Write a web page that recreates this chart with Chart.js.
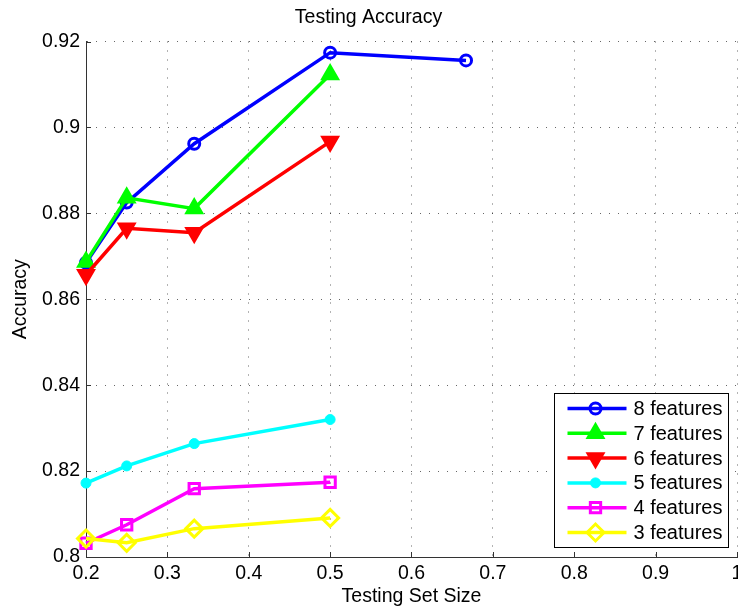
<!DOCTYPE html>
<html>
<head>
<meta charset="utf-8">
<title>Testing Accuracy</title>
<script src="https://cdn.jsdelivr.net/npm/chart.js@4.4.1/dist/chart.umd.min.js"></script>
<style>
  html, body { margin: 0; padding: 0; background: #fff; }
  canvas { display: block; }
</style>
</head>
<body>
<canvas id="acc" width="738" height="611"></canvas>
<script>
// --- 1. Datos ---
// Tamaño del conjunto de prueba (eje X)
const testSizes = [0.2, 0.25, 0.333, 0.5, 0.667];

// Precisión según el número de características usadas
const acc8 = [0.8685, 0.8825, 0.8962, 0.9174, 0.9156];
const acc7 = [0.8687, 0.8836, 0.8811, 0.9123];
const acc6 = [0.8657, 0.8765, 0.8755, 0.8967];
const acc5 = [0.8172, 0.8212, 0.8264, 0.8320];
const acc4 = [0.8032, 0.8075, 0.8159, 0.8174];
const acc3 = [0.8043, 0.8033, 0.8066, 0.8091];

const seriesLabels = ['8 features', '7 features', '6 features', '5 features', '4 features', '3 features'];
const seriesValues = [acc8, acc7, acc6, acc5, acc4, acc3];
const seriesColors = ['#0000ff', '#00ff00', '#ff0000', '#00ffff', '#ff00ff', '#ffff00'];

// Marcadores estilo MATLAB: o, ^, v, . relleno, s, d
const markers = [
    { pointStyle: 'circle',   rotation: 0,   radius: 5.5, fill: false, border: 3 },
    { pointStyle: 'triangle', rotation: 0,   radius: 9.5, fill: true,  border: 2 },
    { pointStyle: 'triangle', rotation: 180, radius: 9.5, fill: true,  border: 2 },
    { pointStyle: 'circle',   rotation: 0,   radius: 5,   fill: true,  border: 1 },
    { pointStyle: 'rect',     rotation: 0,   radius: 7.3, fill: false, border: 3 },
    { pointStyle: 'rectRot',  rotation: 0,   radius: 8.5, fill: false, border: 3 }
];

// --- 2. Configuración global ---
Chart.defaults.font.family = "'Liberation Sans', Arial, sans-serif";
Chart.defaults.font.size = 19.5;
Chart.defaults.color = '#000';

const FONT = "'Liberation Sans', Arial, sans-serif";
const fmt = v => String(Math.round(v * 100) / 100);

// Arma los datasets a partir de los arreglos
const datasets = seriesValues.map((vals, i) => {
    const m = markers[i];
    return {
        label: seriesLabels[i],
        data: vals.map((v, k) => ({ x: testSizes[k], y: v })),
        showLine: true,
        clip: false,
        borderColor: seriesColors[i],
        borderWidth: 3.5,
        tension: 0,
        pointStyle: m.pointStyle,
        pointRotation: m.rotation,
        pointRadius: m.radius,
        pointHoverRadius: m.radius,
        pointBorderWidth: m.border,
        pointBorderColor: seriesColors[i],
        pointBackgroundColor: m.fill ? seriesColors[i] : 'rgba(0,0,0,0)',
        order: seriesValues.length - 1 - i // la última serie queda encima
    };
});

// --- 3. Plugins propios ---
// Marcas de eje hacia adentro (como en MATLAB)
const innerTicks = {
    id: 'innerTicks',
    beforeDatasetsDraw(chart) {
        const { ctx, chartArea: a, scales: { x, y } } = chart;
        ctx.save();
        ctx.strokeStyle = '#333';
        ctx.lineWidth = 1;
        ctx.beginPath();
        x.ticks.forEach(t => {
            const px = Math.round(x.getPixelForValue(t.value)) + 0.5;
            ctx.moveTo(px, a.bottom);
            ctx.lineTo(px, a.bottom - 5);
        });
        y.ticks.forEach(t => {
            const py = Math.round(y.getPixelForValue(t.value)) + 0.5;
            ctx.moveTo(a.left, py);
            ctx.lineTo(a.left + 5, py);
        });
        ctx.stroke();
        ctx.restore();
    }
};

// Leyenda con recuadro dentro del área de trazado (abajo a la derecha)
const boxLegend = {
    id: 'boxLegend',
    afterDraw(chart) {
        const { ctx, chartArea: a } = chart;
        const w = 174, h = 154, rowH = 24.8;
        const left = Math.round(a.right - 9 - w) + 0.5;
        const top = Math.round(a.bottom - 10 - h) + 0.5;
        ctx.save();
        ctx.fillStyle = '#fff';
        ctx.fillRect(left, top, w, h);
        ctx.strokeStyle = '#000';
        ctx.lineWidth = 1;
        ctx.strokeRect(left, top, w, h);

        chart.data.datasets.forEach((ds, i) => {
            const cy = top + 15 + i * rowH;
            ctx.strokeStyle = ds.borderColor;
            ctx.lineWidth = ds.borderWidth;
            ctx.beginPath();
            ctx.moveTo(left + 13, cy);
            ctx.lineTo(left + 72, cy);
            ctx.stroke();

            ctx.fillStyle = ds.pointBackgroundColor;
            ctx.strokeStyle = ds.pointBorderColor;
            ctx.lineWidth = ds.pointBorderWidth;
            Chart.helpers.drawPoint(ctx, {
                pointStyle: ds.pointStyle,
                rotation: ds.pointRotation,
                radius: ds.pointRadius,
                borderWidth: ds.pointBorderWidth
            }, left + 41, cy);

            ctx.fillStyle = '#000';
            ctx.font = '20px ' + FONT;
            ctx.textAlign = 'left';
            ctx.textBaseline = 'middle';
            ctx.fillText(ds.label, left + 79, cy + 1);
        });
        ctx.restore();
    }
};

// --- 4. Gráfico ---
new Chart(document.getElementById('acc'), {
    type: 'scatter',
    data: { datasets: datasets },
    options: {
        responsive: false,
        animation: false,
        devicePixelRatio: 1,
        events: [],
        layout: { autoPadding: false, padding: { left: 0, right: 1, top: 0, bottom: 0 } },
        plugins: {
            legend: { display: false },
            tooltip: { enabled: false },
            title: {
                display: true,
                text: 'Testing Accuracy',
                color: '#000',
                font: { size: 19.5, weight: 'normal', lineHeight: 1 },
                padding: { top: 8, bottom: 14 }
            }
        },
        scales: {
            x: {
                type: 'linear',
                min: 0.2,
                max: 1,
                ticks: { stepSize: 0.1, padding: 5, maxRotation: 0, autoSkip: false, callback: fmt },
                grid: { color: 'rgba(0,0,0,0.6)', lineWidth: 1, drawTicks: false },
                border: { display: true, color: '#333', width: 1, dash: [1, 8] },
                title: {
                    display: true,
                    text: 'Testing Set Size',
                    font: { size: 19.5, lineHeight: 1 },
                    padding: { top: 0, bottom: 5 }
                },
                afterFit(s) { s.height = 54; s.paddingLeft = 0; s.paddingRight = 0; }
            },
            y: {
                type: 'linear',
                min: 0.8,
                max: 0.92,
                ticks: { stepSize: 0.02, padding: 6, autoSkip: false, callback: fmt },
                grid: { color: 'rgba(0,0,0,0.6)', lineWidth: 1, drawTicks: false },
                border: { display: true, color: '#333', width: 1, dash: [1, 8] },
                title: {
                    display: true,
                    text: 'Accuracy',
                    font: { size: 19.5, lineHeight: 1 },
                    padding: { top: 11, bottom: 0 }
                },
                afterFit(s) { s.width = 86; s.paddingTop = 0; s.paddingBottom = 0; }
            }
        }
    },
    plugins: [innerTicks, boxLegend]
});
</script>
</body>
</html>
